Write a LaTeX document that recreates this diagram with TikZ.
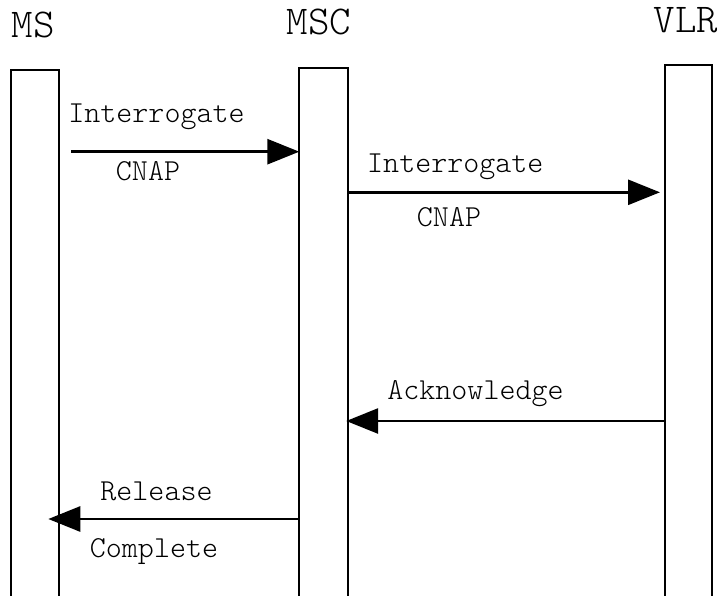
\documentclass[tikz,border=0pt]{standalone}
\usepackage{fontspec}
\newfontfamily\lmlight{lmmonolt10-regular.otf}
\usetikzlibrary{arrows.meta,calc}
\begin{document}
\begin{tikzpicture}[x=1pt,y=1pt,
  lifeline/.style={draw,line width=2pt,rectangle,inner sep=0pt,outer sep=0pt,
    minimum height=600pt,anchor=north west},
  msg/.style={line width=2.8pt,-{Triangle[length=32pt,width=25pt]}},
  biglabel/.style={font=\lmlight\fontsize{41}{41}\selectfont,inner sep=0pt,anchor=base},
  msglabel/.style={font=\lmlight\fontsize{30.5}{30.5}\selectfont,inner sep=0pt,anchor=base}]
\useasboundingbox (0,0) rectangle (717,-596);
\clip (0,0) rectangle (717,-596);
% lifelines
\node[lifeline,minimum width=48.3pt] (ms)  at (11,-70) {};
\node[lifeline,minimum width=48.4pt] (msc) at (299.3,-67.7) {};
\node[lifeline,minimum width=47pt]   (vlr) at (665,-65) {};
% headers
\node[biglabel] (lms)  at (33.5,-38) {MS};
\node[biglabel] (lmsc) at (319,-35) {MSC};
\node[biglabel] (lvlr) at (686,-33) {VLR};
% rows
\coordinate (r1) at (0,-151.7);
\coordinate (r2) at (0,-192.3);
\coordinate (r3) at (0,-421);
\coordinate (r4) at (0,-519);
% messages
\draw[msg] ($(ms.east |- r1)+(11.7,0)$) -- (msc.west |- r1);
\draw[msg] (msc.east |- r2) -- ($(vlr.west |- r2)+(-5,0)$);
\draw[msg] (vlr.west |- r3) -- ($(msc.east |- r3)+(-1.5,0)$);
\draw[msg] (msc.west |- r4) -- ($(ms.east |- r4)+(-11,0)$);
% message labels
\node[msglabel] (t1a) at (156.5,-122.7) {Interrogate};
\node[msglabel] (t1b) at (148,-181) {CNAP};
\node[msglabel] (t2a) at (455.3,-173) {Interrogate};
\node[msglabel] (t2b) at (449,-226) {CNAP};
\node[msglabel] (t3)  at (475.5,-399) {Acknowledge};
\node[msglabel] (t4a) at (156.5,-500) {Release};
\node[msglabel] (t4b) at (154,-557) {Complete};
\end{tikzpicture}
\end{document}
